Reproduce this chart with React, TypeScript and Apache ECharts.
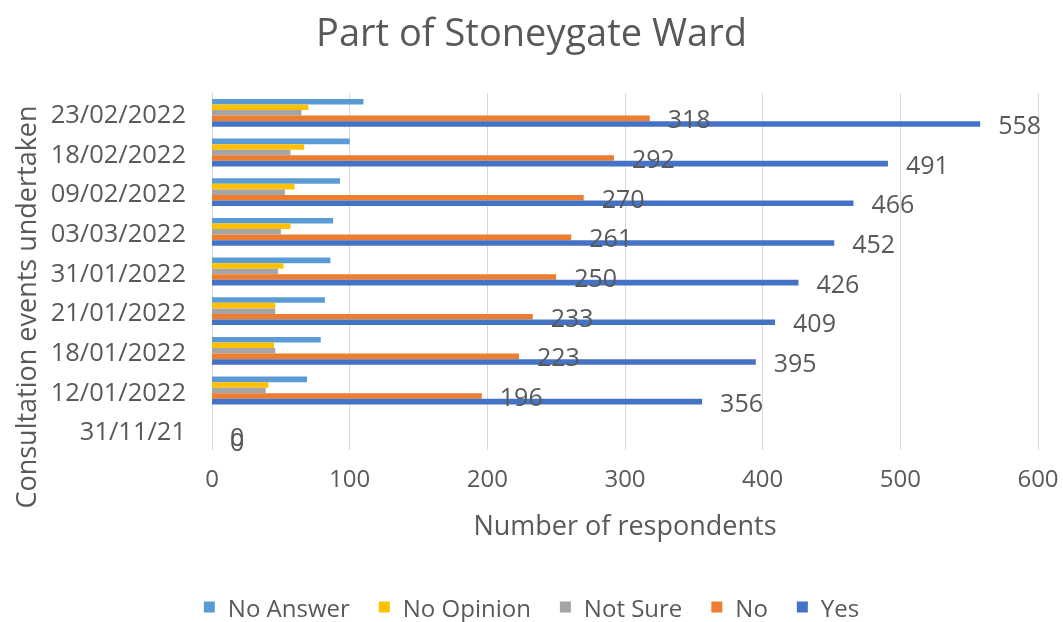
import React, { useEffect, useRef } from "react";
import * as echarts from "echarts";

const categories = [
  "31/11/21",
  "12/01/2022",
  "18/01/2022",
  "21/01/2022",
  "31/01/2022",
  "03/03/2022",
  "09/02/2022",
  "18/02/2022",
  "23/02/2022",
];
const noAnswer = [0, 69, 79, 82, 86, 88, 93, 100, 110];
const noOpinion = [0, 41, 45, 46, 52, 57, 60, 67, 70];
const notSure = [0, 39, 46, 46, 48, 50, 53, 57, 65];
const no = [0, 196, 223, 233, 250, 261, 270, 292, 318];
const yes = [0, 356, 395, 409, 426, 452, 466, 491, 558];
const xTicks = { min: 0, max: 600, interval: 100 };

const FONT = "'Open Sans', sans-serif";
const TXT = "#595959";

export default function App() {
  const ref = useRef<HTMLDivElement>(null);
  useEffect(() => {
    if (!ref.current) return;
    const chart = echarts.init(ref.current, undefined, { renderer: "svg" });
    const label = {
      show: true,
      position: "right",
      distance: 18,
      fontSize: 25,
      color: TXT,
      fontFamily: FONT,
    };
    const mk = (name: string, data: number[], color: string, withLabel: boolean) => ({
      name,
      type: "bar",
      data,
      itemStyle: { color },
      barGap: "0%",
      barCategoryGap: "30%",
      label: withLabel ? label : { show: false },
    });
    chart.setOption({
      animation: false,
      textStyle: { fontFamily: FONT, color: TXT },
      title: {
        text: "Part of Stoneygate Ward",
        left: "center",
        top: 7,
        textStyle: { fontSize: 38, fontWeight: "normal", color: TXT, fontFamily: FONT },
      },
      legend: {
        top: 590,
        left: "center",
        icon: "rect",
        itemWidth: 11,
        itemHeight: 11,
        itemGap: 29,
        textStyle: { fontSize: 24, color: TXT, fontFamily: FONT, padding: [0, 0, 0, 8] },
        data: ["No Answer", "No Opinion", "Not Sure", "No", "Yes"],
      },
      grid: { left: 212, right: 25, top: 93, bottom: 172 },
      xAxis: {
        type: "value",
        min: xTicks.min,
        max: xTicks.max,
        interval: xTicks.interval,
        name: "Number of respondents",
        nameLocation: "middle",
        nameGap: 61,
        nameTextStyle: { fontSize: 27, color: TXT, fontFamily: FONT },
        axisLine: { show: false },
        axisTick: { show: false },
        axisLabel: { fontSize: 24, color: TXT, margin: 15, fontFamily: FONT },
        splitLine: { lineStyle: { color: "#D9D9D9", width: 1 } },
      },
      yAxis: {
        type: "category",
        data: categories,
        axisLine: { show: true, lineStyle: { color: "#D9D9D9" } },
        axisTick: { show: false },
        axisLabel: { fontSize: 25.5, color: TXT, margin: 26, fontFamily: FONT },
      },
      graphic: [
        {
          type: "text",
          x: 25,
          y: 307,
          rotation: Math.PI / 2,
          style: {
            text: "Consultation events undertaken",
            fontSize: 27,
            fill: TXT,
            fontFamily: FONT,
            align: "center",
            verticalAlign: "middle",
          },
        },
      ],
      series: [
        mk("No Answer", noAnswer, "#5B9BD5", false),
        mk("No Opinion", noOpinion, "#FFC000", false),
        mk("Not Sure", notSure, "#A5A5A5", false),
        mk("No", no, "#ED7D31", true),
        mk("Yes", yes, "#4472C4", true),
      ],
    });
    return () => chart.dispose();
  }, []);
  return (
    <div
      ref={ref}
      style={{ position: "fixed", left: 0, top: 0, width: 1063, height: 622 }}
    />
  );
}
